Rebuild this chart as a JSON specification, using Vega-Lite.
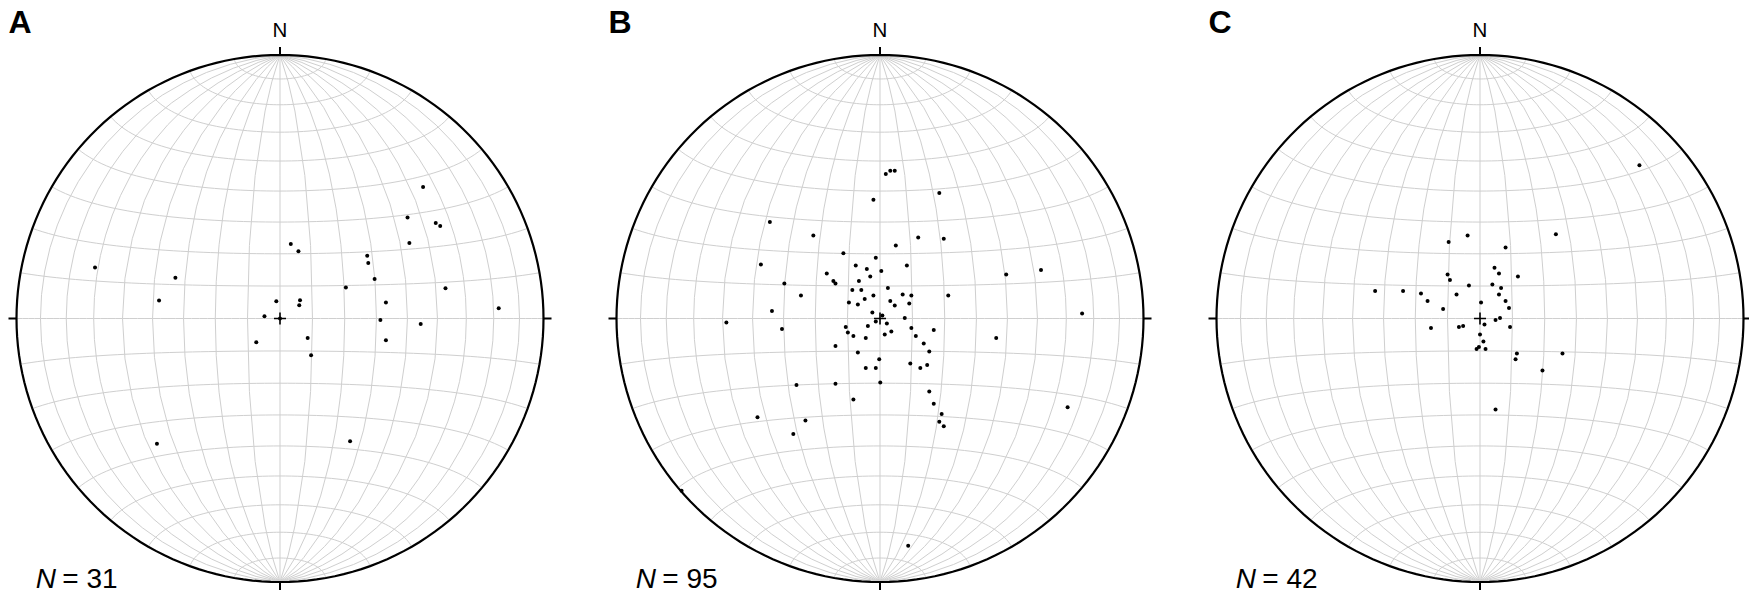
{
  "$schema": "https://vega.github.io/schema/vega-lite/v6.json",
  "padding": 0,
  "bounds": "flush",
  "spacing": 51,
  "background": "white",
  "config": {"view": {"stroke": null}, "font": "Liberation Sans"},
  "datasets": {
    "poles": [
      {"panel": "A", "x": 0.543, "y": 0.499}, {"panel": "A", "x": 0.484, "y": 0.383}, {"panel": "A", "x": 0.591, "y": 0.362},
      {"panel": "A", "x": 0.608, "y": 0.351}, {"panel": "A", "x": 0.491, "y": 0.287}, {"panel": "A", "x": 0.041, "y": 0.283},
      {"panel": "A", "x": 0.070, "y": 0.255}, {"panel": "A", "x": 0.331, "y": 0.238}, {"panel": "A", "x": 0.335, "y": 0.211},
      {"panel": "A", "x": 0.359, "y": 0.150}, {"panel": "A", "x": 0.250, "y": 0.118}, {"panel": "A", "x": 0.628, "y": 0.115},
      {"panel": "A", "x": -0.702, "y": 0.194}, {"panel": "A", "x": -0.397, "y": 0.155}, {"panel": "A", "x": -0.459, "y": 0.068},
      {"panel": "A", "x": -0.014, "y": 0.065}, {"panel": "A", "x": 0.076, "y": 0.069}, {"panel": "A", "x": 0.073, "y": 0.050},
      {"panel": "A", "x": 0.402, "y": 0.061}, {"panel": "A", "x": 0.830, "y": 0.039}, {"panel": "A", "x": -0.059, "y": 0.009},
      {"panel": "A", "x": 0.381, "y": -0.006}, {"panel": "A", "x": 0.534, "y": -0.021}, {"panel": "A", "x": 0.105, "y": -0.074},
      {"panel": "A", "x": -0.090, "y": -0.090}, {"panel": "A", "x": 0.402, "y": -0.083}, {"panel": "A", "x": 0.118, "y": -0.139},
      {"panel": "A", "x": -0.467, "y": -0.475}, {"panel": "A", "x": 0.266, "y": -0.466}, {"panel": "A", "x": 0.0, "y": 0.0},

      {"panel": "B", "x": 0.022, "y": 0.548}, {"panel": "B", "x": 0.039, "y": 0.561}, {"panel": "B", "x": 0.056, "y": 0.561},
      {"panel": "B", "x": -0.025, "y": 0.451}, {"panel": "B", "x": 0.225, "y": 0.476}, {"panel": "B", "x": -0.418, "y": 0.366},
      {"panel": "B", "x": -0.253, "y": 0.315}, {"panel": "B", "x": 0.145, "y": 0.307}, {"panel": "B", "x": 0.242, "y": 0.303},
      {"panel": "B", "x": 0.060, "y": 0.277}, {"panel": "B", "x": -0.139, "y": 0.248}, {"panel": "B", "x": -0.016, "y": 0.231},
      {"panel": "B", "x": -0.452, "y": 0.205}, {"panel": "B", "x": -0.092, "y": 0.201}, {"panel": "B", "x": -0.050, "y": 0.188},
      {"panel": "B", "x": 0.005, "y": 0.180}, {"panel": "B", "x": 0.102, "y": 0.201}, {"panel": "B", "x": -0.202, "y": 0.171},
      {"panel": "B", "x": -0.177, "y": 0.142}, {"panel": "B", "x": -0.037, "y": 0.159}, {"panel": "B", "x": 0.479, "y": 0.167},
      {"panel": "B", "x": 0.611, "y": 0.184}, {"panel": "B", "x": -0.363, "y": 0.133}, {"panel": "B", "x": -0.300, "y": 0.087},
      {"panel": "B", "x": -0.169, "y": 0.133}, {"panel": "B", "x": -0.080, "y": 0.142}, {"panel": "B", "x": 0.030, "y": 0.116},
      {"panel": "B", "x": -0.105, "y": 0.108}, {"panel": "B", "x": -0.071, "y": 0.108}, {"panel": "B", "x": -0.025, "y": 0.087},
      {"panel": "B", "x": 0.086, "y": 0.091}, {"panel": "B", "x": 0.119, "y": 0.087}, {"panel": "B", "x": 0.259, "y": 0.087},
      {"panel": "B", "x": -0.058, "y": 0.074}, {"panel": "B", "x": -0.118, "y": 0.061}, {"panel": "B", "x": -0.084, "y": 0.053},
      {"panel": "B", "x": 0.039, "y": 0.066}, {"panel": "B", "x": 0.056, "y": 0.049}, {"panel": "B", "x": 0.111, "y": 0.057},
      {"panel": "B", "x": -0.410, "y": 0.028}, {"panel": "B", "x": 0.767, "y": 0.019}, {"panel": "B", "x": -0.583, "y": -0.015},
      {"panel": "B", "x": -0.372, "y": -0.040}, {"panel": "B", "x": -0.029, "y": 0.023}, {"panel": "B", "x": 0.009, "y": 0.011},
      {"panel": "B", "x": -0.016, "y": -0.011}, {"panel": "B", "x": 0.026, "y": -0.019}, {"panel": "B", "x": 0.094, "y": 0.002},
      {"panel": "B", "x": -0.046, "y": -0.028}, {"panel": "B", "x": -0.130, "y": -0.032}, {"panel": "B", "x": -0.122, "y": -0.053},
      {"panel": "B", "x": -0.101, "y": -0.066}, {"panel": "B", "x": 0.018, "y": -0.061}, {"panel": "B", "x": 0.043, "y": -0.049},
      {"panel": "B", "x": 0.119, "y": -0.036}, {"panel": "B", "x": 0.136, "y": -0.066}, {"panel": "B", "x": 0.204, "y": -0.044},
      {"panel": "B", "x": 0.441, "y": -0.074}, {"panel": "B", "x": -0.169, "y": -0.104}, {"panel": "B", "x": -0.054, "y": -0.074},
      {"panel": "B", "x": 0.166, "y": -0.095}, {"panel": "B", "x": 0.187, "y": -0.125}, {"panel": "B", "x": -0.084, "y": -0.129},
      {"panel": "B", "x": -0.003, "y": -0.155}, {"panel": "B", "x": -0.054, "y": -0.188}, {"panel": "B", "x": -0.016, "y": -0.188},
      {"panel": "B", "x": 0.115, "y": -0.171}, {"panel": "B", "x": 0.153, "y": -0.188}, {"panel": "B", "x": 0.179, "y": -0.176},
      {"panel": "B", "x": -0.169, "y": -0.248}, {"panel": "B", "x": 0.001, "y": -0.243}, {"panel": "B", "x": -0.317, "y": -0.252},
      {"panel": "B", "x": 0.187, "y": -0.277}, {"panel": "B", "x": 0.204, "y": -0.324}, {"panel": "B", "x": -0.101, "y": -0.307},
      {"panel": "B", "x": 0.234, "y": -0.362}, {"panel": "B", "x": 0.225, "y": -0.392}, {"panel": "B", "x": 0.242, "y": -0.409},
      {"panel": "B", "x": -0.465, "y": -0.375}, {"panel": "B", "x": -0.283, "y": -0.387}, {"panel": "B", "x": -0.329, "y": -0.438},
      {"panel": "B", "x": 0.712, "y": -0.337}, {"panel": "B", "x": -0.753, "y": -0.654}, {"panel": "B", "x": 0.107, "y": -0.862},

      {"panel": "C", "x": 0.605, "y": 0.582}, {"panel": "C", "x": 0.288, "y": 0.320}, {"panel": "C", "x": -0.119, "y": 0.290},
      {"panel": "C", "x": -0.047, "y": 0.315}, {"panel": "C", "x": 0.097, "y": 0.269}, {"panel": "C", "x": 0.055, "y": 0.193},
      {"panel": "C", "x": 0.072, "y": 0.171}, {"panel": "C", "x": -0.123, "y": 0.167}, {"panel": "C", "x": -0.114, "y": 0.146},
      {"panel": "C", "x": 0.144, "y": 0.159}, {"panel": "C", "x": -0.398, "y": 0.104}, {"panel": "C", "x": -0.292, "y": 0.104},
      {"panel": "C", "x": -0.224, "y": 0.095}, {"panel": "C", "x": -0.199, "y": 0.066}, {"panel": "C", "x": -0.140, "y": 0.036},
      {"panel": "C", "x": -0.089, "y": 0.091}, {"panel": "C", "x": -0.042, "y": 0.125}, {"panel": "C", "x": 0.047, "y": 0.129},
      {"panel": "C", "x": 0.080, "y": 0.116}, {"panel": "C", "x": 0.072, "y": 0.091}, {"panel": "C", "x": 0.004, "y": 0.061},
      {"panel": "C", "x": 0.097, "y": 0.066}, {"panel": "C", "x": 0.110, "y": 0.040}, {"panel": "C", "x": -0.080, "y": -0.032},
      {"panel": "C", "x": -0.064, "y": -0.028}, {"panel": "C", "x": -0.186, "y": -0.036}, {"panel": "C", "x": 0.076, "y": 0.002},
      {"panel": "C", "x": 0.059, "y": -0.006}, {"panel": "C", "x": 0.114, "y": -0.032}, {"panel": "C", "x": 0.017, "y": -0.023},
      {"panel": "C", "x": 0.000, "y": -0.061}, {"panel": "C", "x": -0.004, "y": -0.108}, {"panel": "C", "x": 0.021, "y": -0.116},
      {"panel": "C", "x": -0.013, "y": -0.116}, {"panel": "C", "x": 0.140, "y": -0.133}, {"panel": "C", "x": 0.135, "y": -0.155},
      {"panel": "C", "x": 0.237, "y": -0.197}, {"panel": "C", "x": 0.313, "y": -0.133}, {"panel": "C", "x": 0.059, "y": -0.345},
      {"panel": "C", "x": 0.013, "y": -0.087}
    ]
  },
  "hconcat": [
    {
      "width": 549, "height": 599,
      "layer": [
        {"data": {"graticule": {"extent": [[-180, -90], [180, 90]], "step": [10, 10]}},
         "mark": {"type": "geoshape", "filled": false, "stroke": "#cfcfcf", "strokeWidth": 1},
         "projection": {"type": "azimuthalEqualArea", "clipAngle": 90, "scale": 186.32, "translate": [280, 318.5]}},
        {"data": {"sphere": true},
         "mark": {"type": "geoshape", "filled": false, "stroke": "black", "strokeWidth": 2.2},
         "projection": {"type": "azimuthalEqualArea", "clipAngle": 90, "scale": 186.32, "translate": [280, 318.5]}},
        {"data": {"name": "poles"}, "transform": [{"filter": "datum.panel === 'A'"}],
         "mark": {"type": "circle", "size": 16, "color": "black", "opacity": 1},
         "encoding": {
           "x": {"field": "x", "type": "quantitative", "scale": {"domain": [-1.06262, 1.02087], "nice": false, "zero": false}, "axis": null},
           "y": {"field": "y", "type": "quantitative", "scale": {"domain": [-1.06452, 1.20873], "nice": false, "zero": false}, "axis": null}}},
        {"data": {"values": [{}]},
         "layer": [
           {"mark": {"type": "rule", "color": "black", "strokeWidth": 2},
            "encoding": {"x": {"datum": 0}, "y": {"datum": 1.0}, "y2": {"datum": 1.0304}}},
           {"mark": {"type": "rule", "color": "black", "strokeWidth": 2},
            "encoding": {"x": {"datum": 0}, "y": {"datum": -1.0}, "y2": {"datum": -1.0304}}},
           {"mark": {"type": "rule", "color": "black", "strokeWidth": 2},
            "encoding": {"y": {"datum": 0}, "x": {"datum": -1.0}, "x2": {"datum": -1.0304}}},
           {"mark": {"type": "rule", "color": "black", "strokeWidth": 2},
            "encoding": {"y": {"datum": 0}, "x": {"datum": 1.0}, "x2": {"datum": 1.0304}}},
           {"mark": {"type": "point", "shape": "M-1,0L1,0M0,-1L0,1", "size": 144, "filled": false, "stroke": "black", "strokeWidth": 1.6, "opacity": 1},
            "encoding": {"x": {"datum": 0}, "y": {"datum": 0}}},
           {"mark": {"type": "text", "text": "A", "fontWeight": "bold", "fontSize": 32, "align": "left", "baseline": "alphabetic", "color": "black"},
            "encoding": {"x": {"datum": -1.030}, "y": {"datum": 1.0824}}},
           {"mark": {"type": "text", "text": "N", "fontSize": 20.5, "align": "center", "baseline": "alphabetic", "color": "black"},
            "encoding": {"x": {"datum": 0}, "y": {"datum": 1.0695}}},
           {"mark": {"type": "text", "text": "N", "fontStyle": "italic", "fontSize": 28, "align": "left", "baseline": "alphabetic", "color": "black"},
            "encoding": {"x": {"datum": -0.927}, "y": {"datum": -1.0239}}},
           {"mark": {"type": "text", "text": "= 31", "fontSize": 28, "align": "left", "baseline": "alphabetic", "color": "black"},
            "encoding": {"x": {"datum": -0.826}, "y": {"datum": -1.0239}}}
         ],
         "encoding": {
           "x": {"scale": {"domain": [-1.06262, 1.02087], "nice": false, "zero": false}, "axis": null},
           "y": {"scale": {"domain": [-1.06452, 1.20873], "nice": false, "zero": false}, "axis": null}}}
      ]
    },
    {
      "width": 549, "height": 599,
      "layer": [
        {"data": {"graticule": {"extent": [[-180, -90], [180, 90]], "step": [10, 10]}},
         "mark": {"type": "geoshape", "filled": false, "stroke": "#cfcfcf", "strokeWidth": 1},
         "projection": {"type": "azimuthalEqualArea", "clipAngle": 90, "scale": 186.32, "translate": [280, 318.5]}},
        {"data": {"sphere": true},
         "mark": {"type": "geoshape", "filled": false, "stroke": "black", "strokeWidth": 2.2},
         "projection": {"type": "azimuthalEqualArea", "clipAngle": 90, "scale": 186.32, "translate": [280, 318.5]}},
        {"data": {"name": "poles"}, "transform": [{"filter": "datum.panel === 'B'"}],
         "mark": {"type": "circle", "size": 16, "color": "black", "opacity": 1},
         "encoding": {
           "x": {"field": "x", "type": "quantitative", "scale": {"domain": [-1.06262, 1.02087], "nice": false, "zero": false}, "axis": null},
           "y": {"field": "y", "type": "quantitative", "scale": {"domain": [-1.06452, 1.20873], "nice": false, "zero": false}, "axis": null}}},
        {"data": {"values": [{}]},
         "layer": [
           {"mark": {"type": "rule", "color": "black", "strokeWidth": 2},
            "encoding": {"x": {"datum": 0}, "y": {"datum": 1.0}, "y2": {"datum": 1.0304}}},
           {"mark": {"type": "rule", "color": "black", "strokeWidth": 2},
            "encoding": {"x": {"datum": 0}, "y": {"datum": -1.0}, "y2": {"datum": -1.0304}}},
           {"mark": {"type": "rule", "color": "black", "strokeWidth": 2},
            "encoding": {"y": {"datum": 0}, "x": {"datum": -1.0}, "x2": {"datum": -1.0304}}},
           {"mark": {"type": "rule", "color": "black", "strokeWidth": 2},
            "encoding": {"y": {"datum": 0}, "x": {"datum": 1.0}, "x2": {"datum": 1.0304}}},
           {"mark": {"type": "point", "shape": "M-1,0L1,0M0,-1L0,1", "size": 144, "filled": false, "stroke": "black", "strokeWidth": 1.6, "opacity": 1},
            "encoding": {"x": {"datum": 0}, "y": {"datum": 0}}},
           {"mark": {"type": "text", "text": "B", "fontWeight": "bold", "fontSize": 32, "align": "left", "baseline": "alphabetic", "color": "black"},
            "encoding": {"x": {"datum": -1.030}, "y": {"datum": 1.0824}}},
           {"mark": {"type": "text", "text": "N", "fontSize": 20.5, "align": "center", "baseline": "alphabetic", "color": "black"},
            "encoding": {"x": {"datum": 0}, "y": {"datum": 1.0695}}},
           {"mark": {"type": "text", "text": "N", "fontStyle": "italic", "fontSize": 28, "align": "left", "baseline": "alphabetic", "color": "black"},
            "encoding": {"x": {"datum": -0.927}, "y": {"datum": -1.0239}}},
           {"mark": {"type": "text", "text": "= 95", "fontSize": 28, "align": "left", "baseline": "alphabetic", "color": "black"},
            "encoding": {"x": {"datum": -0.826}, "y": {"datum": -1.0239}}}
         ],
         "encoding": {
           "x": {"scale": {"domain": [-1.06262, 1.02087], "nice": false, "zero": false}, "axis": null},
           "y": {"scale": {"domain": [-1.06452, 1.20873], "nice": false, "zero": false}, "axis": null}}}
      ]
    },
    {
      "width": 549, "height": 599,
      "layer": [
        {"data": {"graticule": {"extent": [[-180, -90], [180, 90]], "step": [10, 10]}},
         "mark": {"type": "geoshape", "filled": false, "stroke": "#cfcfcf", "strokeWidth": 1},
         "projection": {"type": "azimuthalEqualArea", "clipAngle": 90, "scale": 186.32, "translate": [280, 318.5]}},
        {"data": {"sphere": true},
         "mark": {"type": "geoshape", "filled": false, "stroke": "black", "strokeWidth": 2.2},
         "projection": {"type": "azimuthalEqualArea", "clipAngle": 90, "scale": 186.32, "translate": [280, 318.5]}},
        {"data": {"name": "poles"}, "transform": [{"filter": "datum.panel === 'C'"}],
         "mark": {"type": "circle", "size": 16, "color": "black", "opacity": 1},
         "encoding": {
           "x": {"field": "x", "type": "quantitative", "scale": {"domain": [-1.06262, 1.02087], "nice": false, "zero": false}, "axis": null},
           "y": {"field": "y", "type": "quantitative", "scale": {"domain": [-1.06452, 1.20873], "nice": false, "zero": false}, "axis": null}}},
        {"data": {"values": [{}]},
         "layer": [
           {"mark": {"type": "rule", "color": "black", "strokeWidth": 2},
            "encoding": {"x": {"datum": 0}, "y": {"datum": 1.0}, "y2": {"datum": 1.0304}}},
           {"mark": {"type": "rule", "color": "black", "strokeWidth": 2},
            "encoding": {"x": {"datum": 0}, "y": {"datum": -1.0}, "y2": {"datum": -1.0304}}},
           {"mark": {"type": "rule", "color": "black", "strokeWidth": 2},
            "encoding": {"y": {"datum": 0}, "x": {"datum": -1.0}, "x2": {"datum": -1.0304}}},
           {"mark": {"type": "rule", "color": "black", "strokeWidth": 2},
            "encoding": {"y": {"datum": 0}, "x": {"datum": 1.0}, "x2": {"datum": 1.0304}}},
           {"mark": {"type": "point", "shape": "M-1,0L1,0M0,-1L0,1", "size": 144, "filled": false, "stroke": "black", "strokeWidth": 1.6, "opacity": 1},
            "encoding": {"x": {"datum": 0}, "y": {"datum": 0}}},
           {"mark": {"type": "text", "text": "C", "fontWeight": "bold", "fontSize": 32, "align": "left", "baseline": "alphabetic", "color": "black"},
            "encoding": {"x": {"datum": -1.030}, "y": {"datum": 1.0824}}},
           {"mark": {"type": "text", "text": "N", "fontSize": 20.5, "align": "center", "baseline": "alphabetic", "color": "black"},
            "encoding": {"x": {"datum": 0}, "y": {"datum": 1.0695}}},
           {"mark": {"type": "text", "text": "N", "fontStyle": "italic", "fontSize": 28, "align": "left", "baseline": "alphabetic", "color": "black"},
            "encoding": {"x": {"datum": -0.927}, "y": {"datum": -1.0239}}},
           {"mark": {"type": "text", "text": "= 42", "fontSize": 28, "align": "left", "baseline": "alphabetic", "color": "black"},
            "encoding": {"x": {"datum": -0.826}, "y": {"datum": -1.0239}}}
         ],
         "encoding": {
           "x": {"scale": {"domain": [-1.06262, 1.02087], "nice": false, "zero": false}, "axis": null},
           "y": {"scale": {"domain": [-1.06452, 1.20873], "nice": false, "zero": false}, "axis": null}}}
      ]
    }
  ]
}
